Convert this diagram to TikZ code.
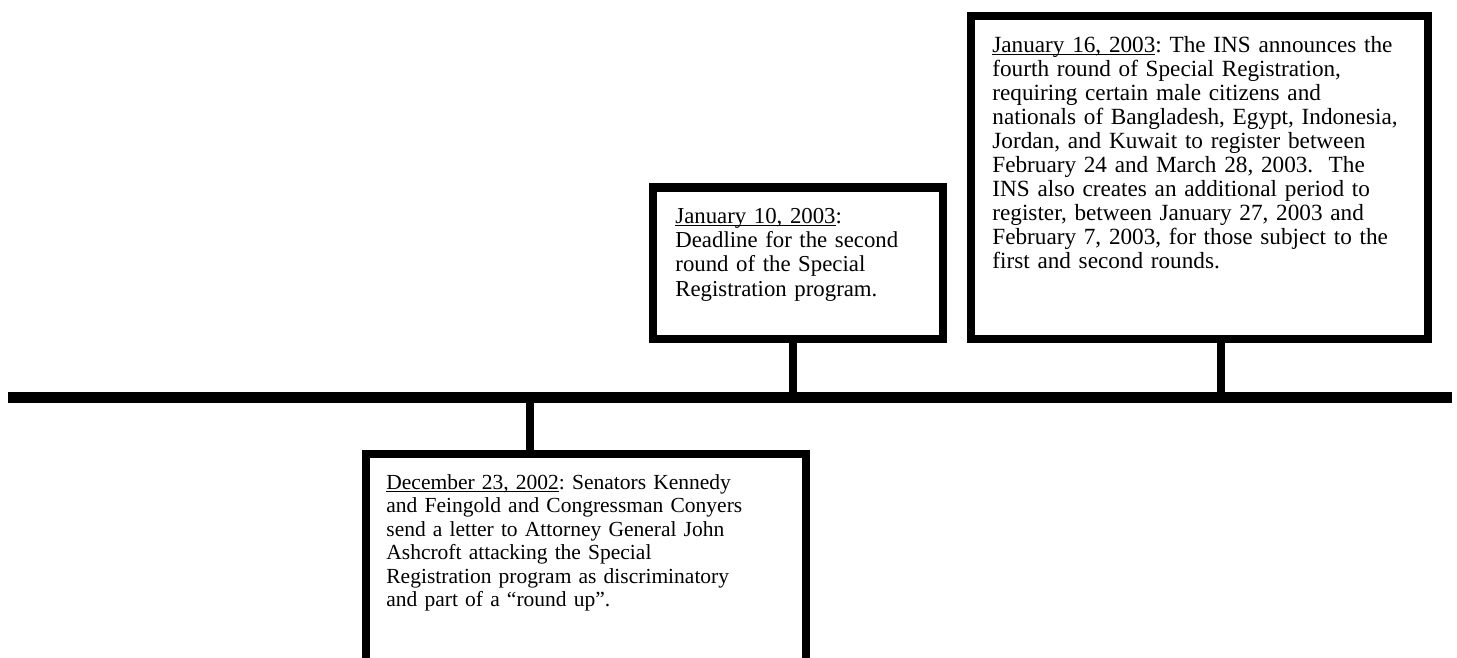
\documentclass[tikz,border=0pt]{standalone}
\usepackage{fontspec}
\setmainfont{Liberation Serif}
\usetikzlibrary{fit}
\newcommand{\dateul}[1]{\setbox0\hbox{#1}\rlap{\rule[-1.3pt]{\wd0}{0.55pt}}\box0}
\tikzset{
  evbox/.style={draw=black, line width=4pt, inner sep=0pt, fill=white},
  evtext/.style={anchor=base west, inner sep=0pt, align=left, text width=250pt},
  stem/.style={draw=black, line width=4pt},
  axis/.style={draw=black, line width=5.5pt}
}
\begin{document}
\frenchspacing
\begin{tikzpicture}[x=0.5pt,y=-0.5pt]
\useasboundingbox (0,0) rectangle (1457,658);
\clip (0,0) rectangle (1457,658);
\fill[white] (0,0) rectangle (1457,658);
% timeline
\coordinate (tlL) at (8,397.8);
\coordinate (tlR) at (1452,397.8);
\draw[axis] (tlL) -- (tlR);
% boxes
\node[evbox, fit={(971,16) (1428,339)}] (b3) {};
\node[evbox, fit={(653,187.5) (943,339)}] (b2) {};
\node[evbox, fit={(365.5,454) (806,690)}] (b1) {};
% stems
\coordinate (t3) at (1221,397.8);
\coordinate (t2) at (792.5,397.8);
\coordinate (t1) at (530,397.8);
\draw[stem] (b3.south -| t3) -- (t3);
\draw[stem] (b2.south -| t2) -- (t2);
\draw[stem] (t1) -- (b1.north -| t1);
% texts
\node[evtext, font=\fontsize{11.6pt}{12.0pt}\selectfont] (x3) at (992,52.5) {\dateul{January 16, 2003}: The INS announces the\\
fourth round of Special Registration,\\
requiring certain male citizens and\\
nationals of Bangladesh, Egypt, Indonesia,\\
Jordan, and Kuwait to register between\\
February 24 and March 28, 2003.\ \ The\\
INS also creates an additional period to\\
register, between January 27, 2003 and\\
February 7, 2003, for those subject to the\\
first and second rounds.};
\node[evtext, font=\fontsize{11.4pt}{12.2pt}\selectfont] (x2) at (675,223) {\dateul{January 10, 2003}:\\
Deadline for the second\\
round of the Special\\
Registration program.};
\node[evtext, font=\fontsize{10.75pt}{11.75pt}\selectfont] (x1) at (386,489) {\dateul{December 23, 2002}: Senators Kennedy\\
and Feingold and Congressman Conyers\\
send a letter to Attorney General John\\
Ashcroft attacking the Special\\
Registration program as discriminatory\\
and part of a “round up”.};
\end{tikzpicture}
\end{document}
